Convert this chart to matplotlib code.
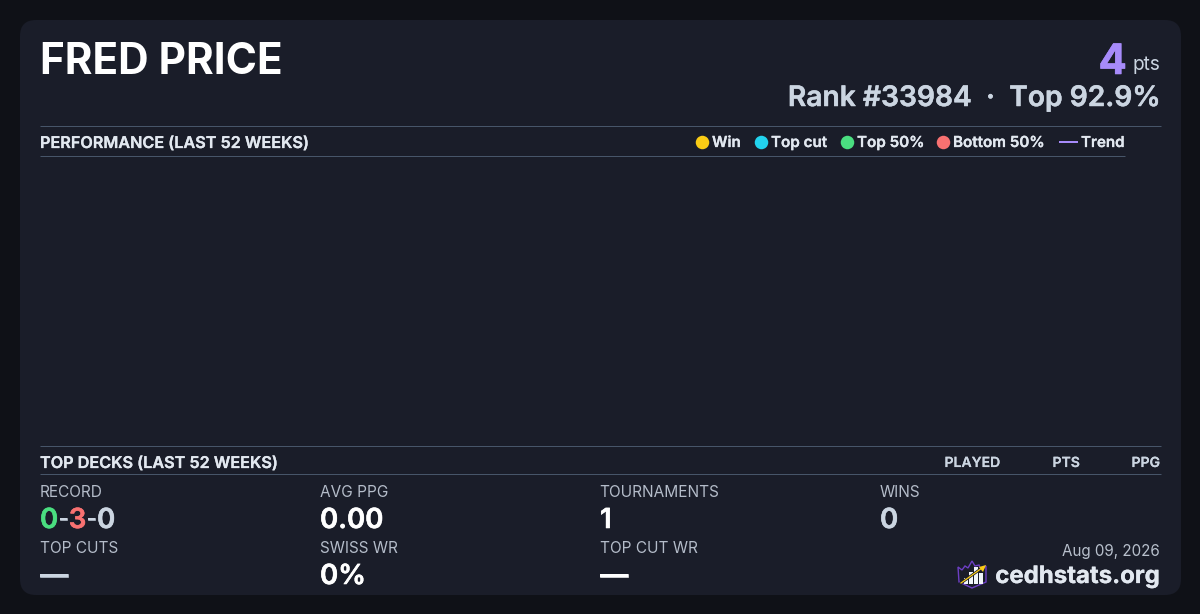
import matplotlib
matplotlib.use("Agg")
import matplotlib.pyplot as plt
import matplotlib.patheffects as pe
from matplotlib.patches import FancyBboxPatch, Polygon, Rectangle

plt.rcParams["font.family"] = ["Inter", "DejaVu Sans"]

# ---------------------------------------------------------------------------
# Card content
# ---------------------------------------------------------------------------
PLAYER = "FRED PRICE"
POINTS = "4"
RANK_LINE = "Rank #33984  ·  Top 92.9%"
LEGEND_LABELS = ["Win", "Top cut", "Top 50%", "Bottom 50%"]
LEGEND_COLORS = ["#facc15", "#22d3ee", "#4ade80", "#f87171"]
LEGEND_X = [702, 761, 847, 943]
DECK_COLUMNS = ["PLAYED", "PTS", "PPG"]
DECK_COLUMN_X = [1000, 1080, 1160]
STAT_LABELS = ["RECORD", "AVG PPG", "TOURNAMENTS", "WINS", "TOP CUTS", "SWISS WR", "TOP CUT WR"]
STAT_VALUES = [None, "0.00", "1", "0", "—", "0%", "—"]
STAT_X = [40, 320, 600, 880, 40, 320, 600]
STAT_COLORS = [None, "white", "white", "#cbd5e1", "#cbd5e1", "white", "white"]
RECORD_PARTS = ["0", "-", "3", "-", "0"]
RECORD_COLORS = ["#4ade80", "#cbd5e1", "#f87171", "#cbd5e1", "#cbd5e1"]

BG = "#0f1117"
CARD = "#1a1d29"
RULE = "#475569"
PX = 0.72  # css px to points at dpi 100

fig = plt.figure(figsize=(12, 6.14), dpi=100, facecolor=BG)
ax = fig.add_axes([0, 0, 1, 1])
ax.set_xlim(0, 1200)
ax.set_ylim(614, 0)
ax.axis("off")


def label(x, y, s, size, color, weight="normal", ha="left", thicken=0.0):
    # y is the text baseline in picture pixels, thicken fakes the heavier web weights
    t = ax.text(x, y, s, fontsize=size * PX, color=color, fontweight=weight,
                ha=ha, va="baseline")
    if thicken:
        t.set_path_effects([pe.withStroke(linewidth=thicken, foreground=color)])
    return t


ax.add_patch(FancyBboxPatch((20, 20), 1161, 575, boxstyle="round,pad=0,rounding_size=16",
                            fc=CARD, ec="none"))

# Header
label(40, 74, PLAYER, 42.3, "white", "bold")
label(1160, 70, "pts", 19, "#cbd5e1", ha="right")
label(1127, 74, POINTS, 42, "#a78bfa", "bold", ha="right", thicken=0.4)
label(1160, 106, RANK_LINE, 28.2, "#cbd5e1", "semibold", ha="right", thicken=0.35)

# Section rules
for x1, y in [(1161, 126), (1125, 156), (1161, 446), (1161, 474)]:
    ax.plot([40, x1], [y, y], color=RULE, lw=0.72, solid_capstyle="butt")

# Performance header and legend
label(40, 148, "PERFORMANCE (LAST 52 WEEKS)", 16.2, "#e2e8f0", "semibold", thicken=0.2)
for x, name, color in zip(LEGEND_X, LEGEND_LABELS, LEGEND_COLORS):
    ax.scatter([x], [142], s=(13.5 * PX) ** 2, color=color, linewidths=0, zorder=3)
    label(x + 10, 147, name, 15.2, "#e2e8f0", "semibold", thicken=0.2)
ax.plot([1059, 1078], [142, 142], color="#a78bfa", lw=2 * PX, solid_capstyle="butt")
label(1081, 147, "Trend", 15.1, "#e2e8f0", "semibold", thicken=0.2)

# Top decks header
label(40, 468, "TOP DECKS (LAST 52 WEEKS)", 16.2, "#e2e8f0", "semibold", thicken=0.2)
for x, name in zip(DECK_COLUMN_X, DECK_COLUMNS):
    label(x, 467, name, 14, "#cbd5e1", "semibold", ha="right", thicken=0.1)

# Stat grid
for i, (name, x) in enumerate(zip(STAT_LABELS, STAT_X)):
    row_y = 0 if i < 4 else 56
    label(x - 0.5, 497 + row_y, name, 15.4, "#b4bcc9")
    if STAT_VALUES[i] is not None:
        label(x, 528 + row_y, STAT_VALUES[i], 27.6, STAT_COLORS[i], "semibold", thicken=0.4)

# Record with coloured parts, the hyphens set smaller to keep the tight web spacing
fig.canvas.draw()
renderer = fig.canvas.get_renderer()
cursor = 40.0
for part, color in zip(RECORD_PARTS, RECORD_COLORS):
    if part == "-":
        t = label(cursor, 526, part, 22, color, "semibold", thicken=0.4)
    else:
        t = label(cursor, 528, part, 27.6, color, "semibold", thicken=0.4)
    cursor = t.get_window_extent(renderer).x1 + 0.2

# Footer
label(1160, 556, "Aug 09, 2026", 15.2, "#b8c0cc", ha="right")
label(1160, 583, "cedhstats.org", 24, "#e2e8f0", "bold", ha="right", thicken=0.2)

# Logo
shield = [(958, 567), (962, 570), (965, 566), (968, 568), (972, 561), (975, 566), (979, 565),
          (981, 570), (986, 566), (986, 582), (972, 588), (959, 582)]
ax.add_patch(Polygon(shield, closed=True, fc="#1a1d29", ec="#6d3fc4", lw=1))
for bx, by, bh in [(964, 578, 6), (969, 572, 12), (974, 567, 17), (979, 573, 11)]:
    ax.add_patch(Rectangle((bx, by), 3.5, bh, fc="#f1f5f9", ec="none"))
ax.plot([961, 982], [583, 568], color="#1a1d29", lw=2, zorder=5)
ax.plot([961, 982], [583, 568], color="#facc15", lw=0.9, zorder=6)
ax.add_patch(Polygon([(986, 565), (979, 567), (983, 572)], closed=True, fc="#facc15",
                     ec="none", zorder=6))

fig.savefig("out.png", dpi=100, facecolor=BG)
